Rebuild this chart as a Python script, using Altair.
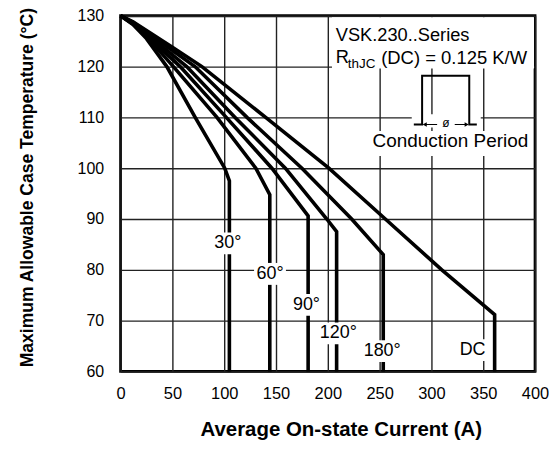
import altair as alt
import pandas as pd

# ---- data ----
series = ["30°", "60°", "90°", "120°", "180°", "DC"]
x_30 = [0, 12, 25, 44.6, 72, 100.5, 105, 105]
y_30 = [130, 128.3, 125.5, 120, 110, 100, 97.5, 60]
x_60 = [0, 12, 25, 51, 93, 130.5, 144, 144]
y_60 = [130, 128.4, 125.9, 120, 110, 100, 94.8, 60]
x_90 = [0, 12, 25, 57.5, 102, 146, 181, 181]
y_90 = [130, 128.5, 126.2, 120, 110, 100, 90.6, 60]
x_120 = [0, 12, 25, 63.8, 110.5, 159, 199, 208.5, 208.5]
y_120 = [130, 128.6, 126.5, 120, 110, 100, 90, 87.5, 60]
x_180 = [0, 12, 25, 71.8, 122, 175, 223, 253.5, 253.5]
y_180 = [130, 128.7, 126.8, 120, 110, 100, 90, 83, 60]
x_dc = [0, 12, 25, 50, 78.5, 140, 201, 255.5, 310, 361, 361]
y_dc = [130, 128.8, 127.1, 123.8, 120, 110, 100, 90, 80, 71.2, 60]

label_text = ["30°", "60°", "90°", "120°", "180°", "DC"]
label_x = [103.5, 144.2, 179.4, 210.2, 252.5, 339.7]
label_y = [85.2, 79.2, 73.1, 67.5, 64.0, 64.2]

x_ticks = [0, 50, 100, 150, 200, 250, 300, 350, 400]
y_ticks = [60, 70, 80, 90, 100, 110, 120, 130]

pulse_x = [283, 291, 291, 336.5, 336.5, 343.8]
pulse_y = [108.6, 108.6, 118.2, 118.2, 108.6, 108.6]

FONT = "Liberation Sans"
PX_X = 416 / 400.0
PX_Y = 357 / 70.0

rows = []
for name, xs_, ys_ in zip(series, [x_30, x_60, x_90, x_120, x_180, x_dc],
                          [y_30, y_60, y_90, y_120, y_180, y_dc]):
    for i, (a, b) in enumerate(zip(xs_, ys_)):
        rows.append({"series": name, "i": i, "I": a, "T": b})
curves_df = pd.DataFrame(rows)

labels_df = pd.DataFrame({"label": label_text, "lx": label_x, "ly": label_y})
pulse_df = pd.DataFrame({"px": pulse_x, "py": pulse_y, "i": list(range(len(pulse_x)))})

xs = alt.Scale(domain=[0, 400], nice=False, zero=False)
ys = alt.Scale(domain=[60, 130], nice=False, zero=False)

x_axis = alt.Axis(values=x_ticks, grid=True, gridColor="#222", gridWidth=1.4,
                  ticks=False, tickSize=0, domain=False, labelFont=FONT,
                  labelFontSize=16.5, labelColor="black", labelPadding=14,
                  labelFlush=False,
                  title="Average On-state Current (A)", titleFont=FONT,
                  titleFontSize=20.5, titleFontWeight="bold", titleColor="black",
                  titleX=221, titleY=58, titleBaseline="middle", titleAnchor="middle")
y_axis = alt.Axis(values=y_ticks, grid=True, gridColor="#222", gridWidth=1.4,
                  ticks=False, tickSize=0, domain=False, labelFont=FONT,
                  labelFontSize=16, labelColor="black", labelPadding=17,
                  title="Maximum Allowable Case Temperature (°C)", titleFont=FONT,
                  titleFontSize=17.6, titleFontWeight="bold", titleColor="black",
                  titleX=-93, titleY=172, titleBaseline="middle", titleAngle=270,
                  titleAnchor="middle")

curves = alt.Chart(curves_df).mark_line(color="black", strokeWidth=3.6,
                                        strokeJoin="miter").encode(
    x=alt.X("I:Q", scale=xs, axis=x_axis),
    y=alt.Y("T:Q", scale=ys, axis=y_axis),
    detail="series:N",
    order="i:Q",
)

# white boxes behind the curve labels
label_boxes = alt.Chart(labels_df).transform_calculate(
    hw=f"(length(datum.label) > 3 ? 21 : 16) / {PX_X}",
    x1="datum.lx - datum.hw",
    x2="datum.lx + datum.hw",
    y1=f"datum.ly - 11 / {PX_Y}",
    y2=f"datum.ly + 11 / {PX_Y}",
).mark_rect(color="white").encode(
    x=alt.X("x1:Q", scale=xs), x2="x2:Q",
    y=alt.Y("y1:Q", scale=ys), y2="y2:Q",
)

label_texts = alt.Chart(labels_df).mark_text(font=FONT, fontSize=18, color="black",
                                             baseline="middle", align="center").encode(
    x=alt.X("lx:Q", scale=xs), y=alt.Y("ly:Q", scale=ys), text="label:N")

# annotation block (top right)
box_df = pd.DataFrame({
    "x1": [204, 238, 281], "x2": [399, 397.5, 347.6],
    "y1": [119.6, 102.4, 108.0], "y2": [129.7, 107.3, 110.6],
})
ann_boxes = alt.Chart(box_df).mark_rect(color="white").encode(
    x=alt.X("x1:Q", scale=xs), x2="x2:Q",
    y=alt.Y("y1:Q", scale=ys), y2="y2:Q",
)

pulse = alt.Chart(pulse_df).mark_line(color="black", strokeWidth=2,
                                      strokeJoin="miter").encode(
    x=alt.X("px:Q", scale=xs), y=alt.Y("py:Q", scale=ys), order="i:Q")

# conduction-period arrows: two short shafts with heads pointing at the pulse edges
arrow_df = pd.DataFrame({"a": [293.5, 322.5], "b": [305.5, 334.0],
                         "y": [108.6, 108.6],
                         "head": [293.5, 334.0],
                         "shape": ["triangle-left", "triangle-right"]})
arrow_shafts = alt.Chart(arrow_df).mark_rule(color="black", strokeWidth=1).encode(
    x=alt.X("a:Q", scale=xs), x2="b:Q", y=alt.Y("y:Q", scale=ys))
arrow_heads = alt.Chart(arrow_df).mark_point(filled=True, color="black", opacity=1,
                                             size=22).encode(
    x=alt.X("head:Q", scale=xs), y=alt.Y("y:Q", scale=ys),
    shape=alt.Shape("shape:N", scale=None))


def txt(s, x, y, size=18, align="left"):
    return alt.Chart(pd.DataFrame({"t": [s], "x": [x], "y": [y]})).mark_text(
        font=FONT, fontSize=size, color="black", align=align, baseline="middle"
    ).encode(x=alt.X("x:Q", scale=xs), y=alt.Y("y:Q", scale=ys), text="t:N")


ann = [
    txt("VSK.230..Series", 207.7, 126.1, size=18.3),
    txt("R", 207.7, 121.6, size=18.3),
    txt("thJC", 219.3, 120.6, size=13.5),
    txt("(DC) = 0.125 K/W", 251.5, 121.6, size=18.5),
    txt("Conduction Period", 318.3, 105.3, size=19, align="center"),
    txt("ø", 313.9, 108.8, size=12, align="center"),
]

chart = alt.layer(curves, label_boxes, label_texts, ann_boxes, pulse,
                  arrow_shafts, arrow_heads, *ann).properties(
    width=416, height=357,
    autosize=alt.AutoSizeParams(type="none"),
    padding={"left": 113, "top": 7, "right": 14, "bottom": 68},
    background="white",
).configure_view(stroke="black", strokeWidth=2.8)

chart.save("out.html", embed_options={"renderer": "svg", "actions": False})
